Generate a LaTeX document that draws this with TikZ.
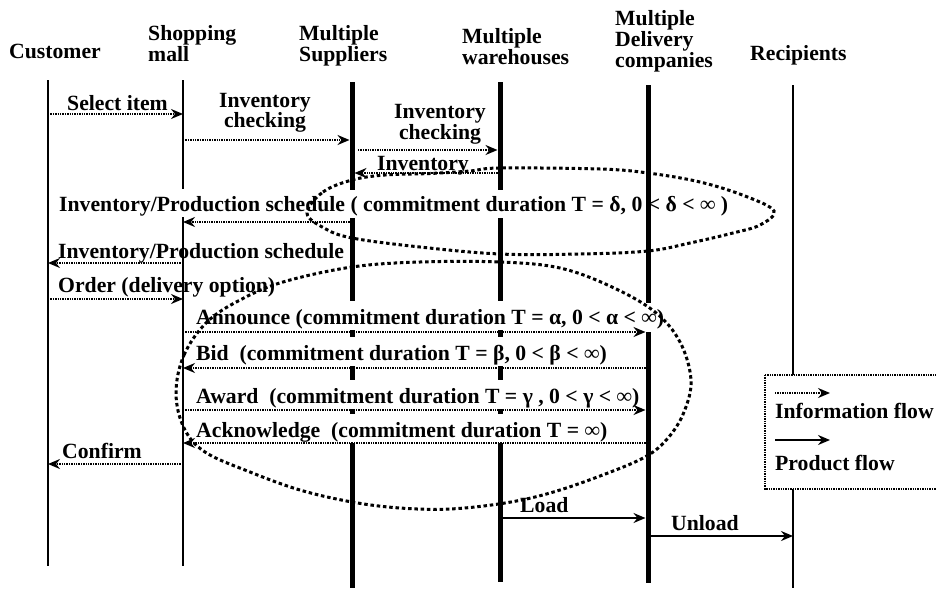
\documentclass[tikz,border=0pt]{standalone}
\usepackage{fontspec}
\setmainfont{Liberation Serif}
\usetikzlibrary{arrows.meta}
\begin{document}
\begin{tikzpicture}[x=1pt,y=-1pt,
  txt/.style={font=\fontsize{21.7}{17}\selectfont\bfseries, inner sep=0pt},
  hdr/.style={txt, align=left, anchor=north west},
  lbl/.style={txt, anchor=base west},
  cover/.style={fill=white, inner xsep=1pt, inner ysep=2.5pt, text height=21pt, text depth=3pt},
  thinline/.style={line width=1.5pt},
  thickline/.style={line width=5pt},
  tip/.style={-{Stealth[length=12pt,width=10pt,inset=4pt]}},
  info/.style={line width=1.8pt, dash pattern=on 1.4pt off 1pt, tip},
  prod/.style={line width=1.8pt, tip},
  loopline/.style={line width=3pt, dash pattern=on 3.5pt off 2.8pt},
  legbox/.style={draw, fill=white, line width=1.8pt, dash pattern=on 1.4pt off 1pt}
]
\useasboundingbox (0,0) rectangle (936,595);

% lifeline tops
\coordinate (cu) at (48,80);
\coordinate (ma) at (183,80);
\coordinate (su) at (352,82);
\coordinate (wa) at (500,82);
\coordinate (de) at (648,85);
\coordinate (re) at (793,85);

% headers
\node[lbl] (hcu) at (9,58) {Customer};
\node[hdr] (hma) at (148,25.5) {Shopping\\mall};
\node[hdr] (hsu) at (299,25.5) {Multiple\\Suppliers};
\node[hdr] (hwa) at (462,28.5) {Multiple\\warehouses};
\node[hdr, font=\fontsize{21.7}{16}\selectfont\bfseries] (hde) at (615,10.5) {Multiple\\Delivery\\companies};
\node[lbl] (hre) at (750,60) {Recipients};

% thick lifelines (covered by labels)
\draw[thickline] (su) -- (su |- 0,588);
\draw[thickline] (wa) -- (wa |- 0,582);
\draw[thinline] (re) -- (re |- 0,588);

% labels
\node[lbl] (tsel) at (67,110) {Select item};
\node[txt, align=center, anchor=north, font=\fontsize{21.7}{20}\selectfont\bfseries] (tic1) at (265,93.5) {Inventory\\checking};
\node[txt, align=center, anchor=north, font=\fontsize{21.7}{19}\selectfont\bfseries] (tic2) at (440,104.5) {Inventory\\checking};
\node[lbl] (tinv) at (377,170) {Inventory};
\node[lbl, fill=white, inner xsep=1pt, inner ysep=2pt, text height=19pt, text depth=5pt] (tbig) at (58,211) {Inventory/Production schedule ( commitment duration T = δ, 0 < δ < ∞ )};
\node[lbl] (tips) at (58,258) {Inventory/Production schedule};
\node[lbl] (tord) at (58,292) {Order (delivery option)};
\node[lbl, cover] (tann) at (195,324) {Announce (commitment duration T = α, 0 < α < ∞)};
\node[lbl, cover] (tbid) at (195,360) {Bid~~(commitment duration T = β, 0 < β < ∞)};
\node[lbl, cover] (tawd) at (195,403) {Award~~(commitment duration T = γ , 0 < γ < ∞)};
\node[lbl, cover] (tack) at (195,437) {Acknowledge~~(commitment duration T = ∞)};
\node[lbl] (tcon) at (62,458) {Confirm};
\node[lbl] (tload) at (520,512) {Load};
\node[lbl] (tunl) at (671,530) {Unload};

% thin lifelines and delivery line drawn over labels
\draw[thinline] (cu) -- (cu |- 0,566);
\draw[thinline] (ma) -- (ma |- 0,189);
\draw[thinline] (ma |- 0,217) -- (ma |- 0,566);
\draw[thickline] (de) -- (de |- 0,303);
\draw[thickline] (de |- 0,332) -- (de |- 0,583);

% messages
\draw[info] (cu |- 0,114) -- (ma |- 0,114);
\draw[info, shorten >=2.5pt] (ma |- 0,140) -- (su |- 0,140);
\draw[info, shorten <=6pt, shorten >=2.5pt] (su |- 0,150) -- (wa |- 0,150);
\draw[info, shorten <=2.5pt, shorten >=2.5pt] (wa |- 0,173) -- (su |- 0,173);
\draw[info, shorten <=2.5pt] (su |- 0,222) -- (ma |- 0,222);
\draw[info] (ma |- 0,263) -- (cu |- 0,263);
\draw[info] (cu |- 0,299) -- (ma |- 0,299);
\draw[info, shorten >=2.5pt] (ma |- 0,332) -- (de |- 0,332);
\draw[info, shorten <=2.5pt] (de |- 0,368) -- (ma |- 0,368);
\draw[info, shorten >=2.5pt] (ma |- 0,410) -- (de |- 0,410);
\draw[info, shorten <=2.5pt] (de |- 0,443) -- (ma |- 0,443);
\draw[info] (ma |- 0,464) -- (cu |- 0,464);
\draw[prod, shorten <=2.5pt, shorten >=2.5pt] (wa |- 0,518) -- (de |- 0,518);
\draw[prod, shorten <=2.5pt] (de |- 0,536) -- (re |- 0,536);

% commitment loops
\draw[loopline] plot[smooth cycle, tension=0.6] coordinates {
  (307,213) (323,192) (352,180) (385,175) (430,173.5) (470,171) (500,168)
  (600,169) (648,173) (700,182) (745,196) (774,211) (760,225) (733,233)
  (690,243) (648,251) (580,254) (500,254) (420,247) (352,238) (324,228)};
\draw[loopline] plot[smooth cycle, tension=0.6] coordinates {
  (176,393) (184,355) (207,322) (240,300) (283,282) (352,267) (420,262)
  (500,262) (560,268) (612,287) (655,312) (680,342) (691,380) (684,412)
  (668,438) (645,457) (600,476) (550,493) (505,503) (450,509) (400,508)
  (352,502) (300,490) (250,472) (205,452) (184,428)};

% legend
\draw[legbox] (765,375) rectangle (960,489);
\coordinate (lia) at (775,393);
\coordinate (lib) at (830,393);
\coordinate (lpa) at (775,440);
\coordinate (lpb) at (830,440);
\draw[info] (lia) -- (lib);
\node[lbl] (tlinfo) at (775,418) {Information flow};
\draw[prod] (lpa) -- (lpb);
\node[lbl] (tlprod) at (775,470) {Product flow};
\end{tikzpicture}
\end{document}
